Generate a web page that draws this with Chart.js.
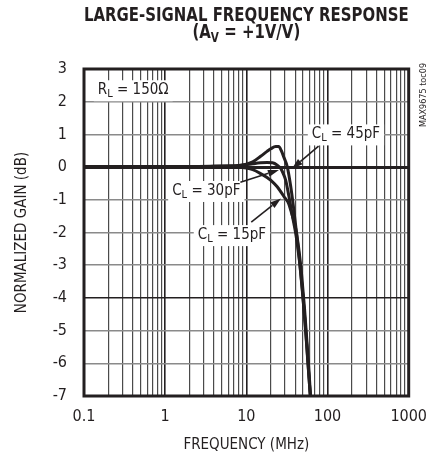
<!DOCTYPE html>
<html>
<head>
<meta charset="utf-8">
<script src="https://cdn.jsdelivr.net/npm/chart.js@4/dist/chart.umd.min.js"></script>
<style>
    html, body { margin: 0; padding: 0; background: #fff; }
</style>
</head>
<body>
<canvas id="gainChart" width="438" height="457"></canvas>
<script>
// ============================================
// DATA
// ============================================

const freq45 = [0.1, 0.3, 1, 2, 4, 6, 8, 10, 12, 15, 18, 20, 23, 25, 27, 29, 32, 35, 38, 41, 45, 49, 53, 57, 61, 64];
const gain45 = [0.02, 0.02, 0.02, 0.02, 0.03, 0.04, 0.05, 0.09, 0.16, 0.33, 0.48, 0.56, 0.63, 0.63, 0.5, 0.3, 0.0, -0.55, -1.2, -1.9, -2.8, -3.75, -4.75, -5.85, -6.9, -7.6];

const freq30 = [0.1, 0.3, 1, 2, 4, 6, 8, 10, 12, 15, 18, 21, 24, 26.5, 28.5, 30.5, 33.5, 37, 41, 45, 49, 53, 57, 61, 64];
const gain30 = [0.02, 0.02, 0.02, 0.02, 0.02, 0.02, 0.04, 0.07, 0.1, 0.13, 0.14, 0.13, 0.06, -0.04, -0.2, -0.4, -0.9, -1.5, -2.1, -2.85, -3.8, -4.8, -5.9, -6.9, -7.6];

const freq15 = [0.1, 0.3, 1, 2, 4, 6, 8, 10, 12, 15, 18, 21, 24, 27, 30, 33, 36, 40, 44, 48, 52, 56, 60, 64];
const gain15 = [0.02, 0.02, 0.02, 0.02, 0.02, 0.01, 0.0, -0.03, -0.08, -0.2, -0.32, -0.45, -0.6, -0.78, -0.95, -1.1, -1.4, -1.8, -2.45, -3.3, -4.3, -5.4, -6.5, -7.6];

const seriesNames = ['CL = 45pF', 'CL = 30pF', 'CL = 15pF'];

const xTickValues = [0.1, 0.2, 0.3, 0.4, 0.5, 0.6, 0.7, 0.8, 0.9,
    1, 2, 3, 4, 5, 6, 7, 8, 9,
    10, 20, 30, 40, 50, 60, 70, 80, 90,
    100, 200, 300, 400, 500, 600, 700, 800, 900, 1000];
const xTickLabels = ['0.1', '1', '10', '100', '1000'];
const yTickValues = [3, 2, 1, 0, -1, -2, -3, -4, -5, -6, -7];

// ============================================
// STYLE
// ============================================

const FONT = "'Liberation Sans Narrow', 'DejaVu Sans Condensed', 'Roboto Condensed', sans-serif";
const INK = '#231f20';

function toPoints(xs, ys) {
    return xs.map((x, i) => ({ x: x, y: ys[i] }));
}

function isDecade(v) {
    const l = Math.log10(v);
    return Math.abs(l - Math.round(l)) < 1e-9;
}

// draw text made of parts, some subscripted; align = 'left' | 'center'
function drawParts(ctx, parts, x, y, size, weight, align, sx = 1) {
    const subSize = Math.round(size * 0.72);
    let total = 0;
    parts.forEach(p => {
        ctx.font = `${weight} ${p.sub ? subSize : size}px ${FONT}`;
        p.w = ctx.measureText(p.t).width * sx;
        total += p.w;
    });
    let cx = align === 'center' ? x - total / 2 : x;
    ctx.textBaseline = 'middle';
    ctx.textAlign = 'left';
    parts.forEach(p => {
        ctx.font = `${weight} ${p.sub ? subSize : size}px ${FONT}`;
        ctx.save();
        ctx.translate(cx, p.sub ? y + size * 0.28 : y);
        ctx.scale(sx, 1);
        ctx.fillText(p.t, 0, 0);
        ctx.restore();
        cx += p.w;
    });
    return total;
}

function arrow(ctx, x1, y1, x2, y2) {
    const ang = Math.atan2(y2 - y1, x2 - x1);
    const len = 11, half = 3.5;
    const bx = x2 - Math.cos(ang) * len, by = y2 - Math.sin(ang) * len;
    ctx.beginPath();
    ctx.moveTo(x1, y1);
    ctx.lineTo(bx, by);
    ctx.lineWidth = 1.6;
    ctx.stroke();
    ctx.beginPath();
    ctx.moveTo(x2, y2);
    ctx.lineTo(bx + Math.sin(ang) * half, by - Math.cos(ang) * half);
    ctx.lineTo(bx - Math.sin(ang) * half, by + Math.cos(ang) * half);
    ctx.closePath();
    ctx.fill();
}

// label anchors in data units: text left edge / middle
const curveLabels = [
    { parts: [{ t: 'C' }, { t: 'L', sub: true }, { t: ' = 45pF' }], x: 64, y: 1.0, from: [77.6, 0.64], to: [36.4, -0.05] },
    { parts: [{ t: 'C' }, { t: 'L', sub: true }, { t: ' = 30pF' }], x: 1.22, y: -0.73, from: [8.45, -0.46], to: [25.2, -0.09] },
    { parts: [{ t: 'C' }, { t: 'L', sub: true }, { t: ' = 15pF' }], x: 2.52, y: -2.08, from: [11.5, -1.68], to: [26.7, -0.96] }
];

// ============================================
// PLUGINS
// ============================================

const labelBoxes = {
    id: 'labelBoxes',
    beforeDatasetsDraw(chart) {
        const ctx = chart.ctx, xs = chart.scales.x, ys = chart.scales.y;
        ctx.save();
        curveLabels.forEach(l => {
            const px = xs.getPixelForValue(l.x), py = ys.getPixelForValue(l.y);
            ctx.fillStyle = '#fff';
            const w = drawParts(ctx, l.parts, -1000, -1000, 15, 'normal', 'left');
            ctx.fillRect(px - 4, py - 10, w + 8, 21);
        });
        ctx.restore();
    },
    afterDatasetsDraw(chart) {
        const ctx = chart.ctx, xs = chart.scales.x, ys = chart.scales.y;
        const area = chart.chartArea;
        ctx.save();
        ctx.fillStyle = INK;
        ctx.strokeStyle = INK;
        curveLabels.forEach(l => {
            const px = xs.getPixelForValue(l.x), py = ys.getPixelForValue(l.y);
            drawParts(ctx, l.parts, px, py, 15, 'normal', 'left');
            arrow(ctx, xs.getPixelForValue(l.from[0]), ys.getPixelForValue(l.from[1]),
                xs.getPixelForValue(l.to[0]), ys.getPixelForValue(l.to[1]));
        });
        // R_L = 150 ohm
        ctx.fillStyle = '#fff';
        const rParts = [{ t: 'R' }, { t: 'L', sub: true }, { t: ' = 150Ω' }];
        const rw = drawParts(ctx, rParts, -1000, -1000, 15, 'normal', 'left');
        const rx = xs.getPixelForValue(0.148), ry = ys.getPixelForValue(2.35);
        ctx.fillRect(rx - 4, ry - 10, rw + 8, 21);
        ctx.fillStyle = INK;
        drawParts(ctx, rParts, rx, ry, 15, 'normal', 'left');

        // frame
        ctx.lineWidth = 3;
        ctx.strokeRect(area.left, area.top, area.right - area.left, area.bottom - area.top);

        // titles, squeezed to the width of the plot frame
        const cx = (area.left + area.right) / 2;
        ctx.font = `bold 20px ${FONT}`;
        const sx = (area.right - area.left) / ctx.measureText('LARGE-SIGNAL FREQUENCY RESPONSE').width;
        drawParts(ctx, [{ t: 'LARGE-SIGNAL FREQUENCY RESPONSE' }], cx, 16, 20, 'bold', 'center', sx);
        drawParts(ctx, [{ t: '(A' }, { t: 'V', sub: true }, { t: ' = +1V/V)' }], cx, 32.5, 20, 'bold', 'center', sx);

        // side tag
        ctx.translate(424, 95);
        ctx.rotate(-Math.PI / 2);
        ctx.font = `9px ${FONT}`;
        ctx.textAlign = 'center';
        ctx.textBaseline = 'middle';
        ctx.fillText('MAX9675 toc09', 0, 0);
        ctx.restore();
    }
};

// ============================================
// CHART
// ============================================

const curveStyle = {
    borderColor: INK,
    borderWidth: 3,
    pointRadius: 0,
    cubicInterpolationMode: 'monotone',
    fill: false
};

new Chart(document.getElementById('gainChart'), {
    type: 'line',
    data: {
        datasets: [
            Object.assign({ label: seriesNames[0], data: toPoints(freq45, gain45) }, curveStyle),
            Object.assign({ label: seriesNames[1], data: toPoints(freq30, gain30) }, curveStyle),
            Object.assign({ label: seriesNames[2], data: toPoints(freq15, gain15) }, curveStyle)
        ]
    },
    options: {
        responsive: false,
        animation: false,
        layout: { padding: { top: 69, right: 26, left: 0, bottom: 0 } },
        plugins: {
            legend: { display: false },
            tooltip: { enabled: false }
        },
        scales: {
            x: {
                type: 'logarithmic',
                min: 0.1,
                max: 1000,
                afterBuildTicks: scale => {
                    scale.ticks = xTickValues.map(v => ({ value: v }));
                },
                afterFit: scale => { scale.height = 61; },
                border: { display: false },
                grid: {
                    drawTicks: false,
                    color: ctx => isDecade(ctx.tick.value) ? INK : '#4a4a4a',
                    lineWidth: ctx => isDecade(ctx.tick.value) ? 1.6 : 1.2
                },
                ticks: {
                    autoSkip: false,
                    maxRotation: 0,
                    padding: 11,
                    color: INK,
                    font: { family: FONT, size: 16 },
                    callback: value => {
                        const i = Math.round(Math.log10(value)) + 1;
                        return isDecade(value) ? xTickLabels[i] : '';
                    }
                },
                title: {
                    display: true,
                    text: 'FREQUENCY (MHz)',
                    color: INK,
                    font: { family: FONT, size: 15 },
                    padding: { top: 0, bottom: 3 }
                }
            },
            y: {
                min: -7,
                max: 3,
                afterBuildTicks: scale => {
                    scale.ticks = yTickValues.map(v => ({ value: v }));
                },
                afterFit: scale => { scale.width = 84; },
                border: { display: false },
                grid: {
                    drawTicks: false,
                    color: ctx => (ctx.tick.value === 0 || ctx.tick.value === -4) ? INK : '#8a8a8a',
                    lineWidth: ctx => ctx.tick.value === 0 ? 3 : 1.5
                },
                ticks: {
                    padding: 17,
                    color: INK,
                    font: { family: FONT, size: 16 },
                    callback: value => String(value)
                },
                title: {
                    display: true,
                    text: 'NORMALIZED GAIN (dB)',
                    color: INK,
                    font: { family: FONT, size: 15 },
                    padding: { top: 13, bottom: 0 }
                }
            }
        }
    },
    plugins: [labelBoxes]
});
</script>
</body>
</html>
